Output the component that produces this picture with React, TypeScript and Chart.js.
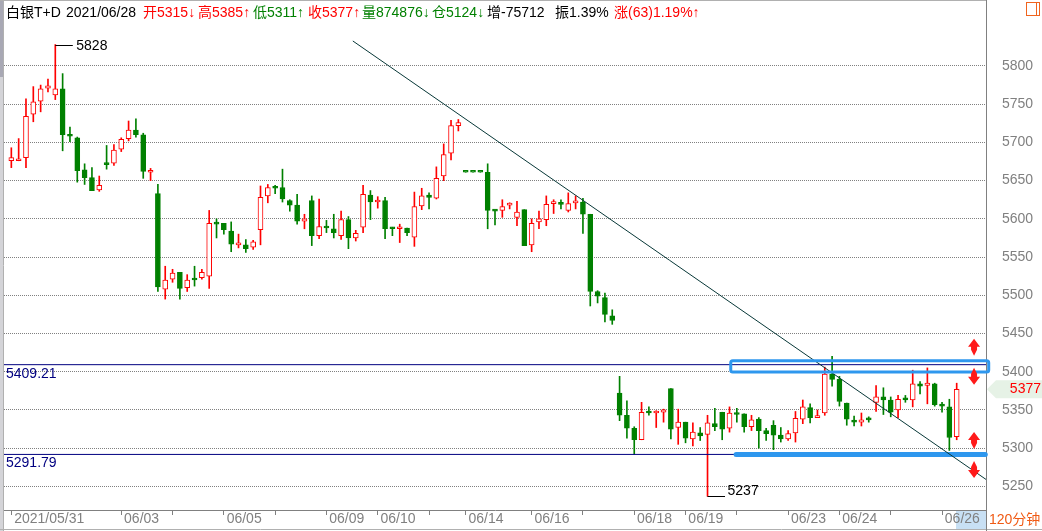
import React, { useEffect, useRef } from 'react';
import { Chart, registerables } from 'chart.js';

Chart.register(...registerables);

// ---- data (120-minute candles, 白银T+D) ----
const opens = [
  5676, 5676, 5680, 5737, 5754, 5771, 5762, 5770, 5709, 5706,
  5664, 5654, 5638, 5672, 5673, 5691, 5705, 5716, 5710, 5661,
  5633, 5508, 5521, 5530, 5510, 5521, 5523, 5525, 5594, 5594,
  5584, 5566, 5566, 5563, 5586, 5630, 5641, 5641, 5624, 5618,
  5597, 5624, 5578, 5590, 5587, 5578, 5599, 5575, 5589, 5631,
  5622, 5624, 5588, 5587, 5588, 5576, 5617, 5631, 5627, 5656,
  5686, 5722, 5661, 5661, 5661, 5661, 5611, 5611, 5618, 5602,
  5612, 5566, 5596, 5599, 5620, 5620, 5611, 5621, 5622, 5606,
  5505, 5497, 5473, 5372, 5343, 5326, 5311, 5347, 5346, 5347,
  5378, 5327, 5334, 5312, 5320, 5318, 5332, 5347, 5326, 5346,
  5345, 5328, 5338, 5323, 5330, 5317, 5312, 5320, 5338, 5353,
  5340, 5346, 5397, 5390, 5359, 5335, 5334, 5338, 5360, 5367,
  5363, 5350, 5366, 5363, 5384, 5382, 5384, 5357, 5354, 5315,
];
const highs = [
  5693, 5705, 5757, 5773, 5775, 5783, 5828, 5790, 5720, 5707,
  5672, 5667, 5656, 5696, 5697, 5706, 5728, 5731, 5712, 5666,
  5645, 5538, 5534, 5530, 5527, 5538, 5534, 5611, 5600, 5594,
  5596, 5580, 5573, 5572, 5643, 5645, 5644, 5665, 5625, 5632,
  5606, 5630, 5626, 5598, 5606, 5610, 5603, 5585, 5644, 5637,
  5629, 5628, 5589, 5593, 5588, 5635, 5640, 5634, 5668, 5698,
  5729, 5730, 5661, 5661, 5661, 5672, 5612, 5625, 5621, 5623,
  5612, 5600, 5610, 5630, 5625, 5625, 5634, 5630, 5627, 5606,
  5506, 5503, 5481, 5394, 5362, 5328, 5360, 5354, 5349, 5351,
  5378, 5351, 5334, 5333, 5327, 5343, 5352, 5347, 5354, 5352,
  5345, 5343, 5340, 5326, 5336, 5327, 5323, 5348, 5363, 5358,
  5350, 5406, 5420, 5394, 5359, 5342, 5346, 5341, 5382, 5379,
  5367, 5369, 5369, 5402, 5387, 5405, 5385, 5360, 5364, 5385,
];
const lows = [
  5667, 5676, 5667, 5727, 5740, 5766, 5756, 5689, 5701, 5648,
  5645, 5637, 5636, 5665, 5670, 5688, 5702, 5707, 5653, 5650,
  5505, 5495, 5517, 5495, 5505, 5512, 5521, 5509, 5575, 5580,
  5557, 5562, 5556, 5560, 5566, 5621, 5633, 5622, 5610, 5593,
  5587, 5565, 5574, 5582, 5575, 5573, 5561, 5571, 5582, 5599,
  5614, 5574, 5578, 5569, 5578, 5564, 5612, 5613, 5626, 5650,
  5677, 5715, 5661, 5661, 5661, 5587, 5592, 5602, 5613, 5591,
  5565, 5557, 5587, 5591, 5607, 5613, 5609, 5613, 5581, 5486,
  5490, 5465, 5462, 5336, 5313, 5292, 5311, 5343, 5327, 5334,
  5312, 5305, 5307, 5303, 5310, 5237, 5323, 5311, 5321, 5334,
  5321, 5323, 5300, 5310, 5298, 5308, 5310, 5308, 5332, 5333,
  5340, 5343, 5381, 5355, 5330, 5329, 5329, 5334, 5348, 5344,
  5341, 5340, 5360, 5354, 5371, 5358, 5355, 5347, 5297, 5311,
];
const closes = [
  5680, 5677, 5734, 5753, 5770, 5774, 5770, 5710, 5708, 5663,
  5654, 5637, 5644, 5671, 5690, 5704, 5716, 5710, 5662, 5662,
  5511, 5520, 5529, 5509, 5520, 5520, 5530, 5594, 5593, 5586,
  5567, 5567, 5561, 5570, 5628, 5641, 5640, 5626, 5618, 5597,
  5600, 5578, 5590, 5588, 5582, 5599, 5575, 5581, 5632, 5622,
  5623, 5587, 5587, 5588, 5582, 5616, 5630, 5628, 5653, 5684,
  5722, 5726, 5661, 5661, 5661, 5611, 5610, 5616, 5620, 5609,
  5565, 5594, 5600, 5619, 5621, 5619, 5620, 5622, 5606, 5505,
  5499, 5475, 5467, 5343, 5326, 5311, 5347, 5346, 5347, 5350,
  5325, 5334, 5313, 5321, 5316, 5333, 5328, 5325, 5346, 5344,
  5328, 5337, 5323, 5319, 5317, 5312, 5319, 5339, 5354, 5340,
  5341, 5397, 5390, 5361, 5338, 5334, 5337, 5337, 5367, 5363,
  5347, 5364, 5363, 5384, 5381, 5385, 5357, 5355, 5314, 5377,
];

const yTickValues = [5250, 5300, 5350, 5400, 5450, 5500, 5550, 5600, 5650, 5700, 5750, 5800];
const xTickIndex = [0, 15, 22, 29, 36, 43, 50, 57, 62, 71, 78, 85, 92, 99, 106, 113, 120, 127];
const xTickLabels = ['2021/05/31', '06/03', '', '06/05', '', '06/09', '06/10', '', '06/14', '06/16', '', '06/18', '06/19', '', '06/23', '06/24', '', '06/26'];

const levelValues = [5409.21, 5291.79];
const levelLabels = ['5409.21', '5291.79'];
const trendPoints = [{ x: 46.6, y: 5832.7 }, { x: 133, y: 5259.1 }];
const supportBar = [{ x: 98.9, y: 5291.79 }, { x: 132.9, y: 5291.79 }];
const resistZone = { from: 98.17, to: 133.37, lo: 5399.6, hi: 5414.4 };
const arrowMarks = [
  { x: 131.37, y: 5432.8, dir: 1 },
  { x: 131.37, y: 5393.5, dir: -1 },
  { x: 131.37, y: 5310.7, dir: 1 },
  { x: 131.37, y: 5271.4, dir: -1 },
];
const headerTexts = ['白银T+D', '2021/06/28', '开5315↓', '高5385↑', '低5311↑', '收5377↑', '量874876↓', '仓5124↓', '增-75712', '振1.39%', '涨(63)1.19%↑'];
const headerColors = ['k', 'k', 'r', 'r', 'g', 'r', 'g', 'g', 'k', 'k', 'r'];
const periodLabel = '120分钟';

const FONT = '"Liberation Sans", "Noto Sans CJK SC", sans-serif';
const RED = '#ff0000';
const GREEN = '#008000';
const GRAY = '#808080';

const headerX = [6, 66, 143, 198, 253, 308, 362, 432, 487, 555, 614];

function drawArrow(ctx: any, x: number, y: number, dir: number) {
  ctx.beginPath();
  ctx.moveTo(x, y - 8 * dir);
  ctx.lineTo(x + 6, y);
  ctx.lineTo(x + 3, y);
  ctx.lineTo(x + 3, y + 3 * dir);
  ctx.lineTo(x, y + 9 * dir);
  ctx.lineTo(x - 3, y + 3 * dir);
  ctx.lineTo(x - 3, y);
  ctx.lineTo(x - 6, y);
  ctx.closePath();
  ctx.fill();
}

const decorPlugin = {
  id: 'decor',
  beforeDraw(chart: any) {
    const { ctx, width, height, chartArea } = chart;
    ctx.save();
    ctx.fillStyle = '#ffffff';
    ctx.fillRect(0, 0, width, height);
    ctx.fillStyle = '#c8e0f4';
    ctx.fillRect(chartArea.right - 30, chartArea.bottom + 1, 31, height - chartArea.bottom - 3);
    ctx.restore();
  },
  afterDatasetsDraw(chart: any) {
    const { ctx, chartArea } = chart;
    const xs = chart.scales.x;
    const ys = chart.scales.y;
    ctx.save();
    // resistance zone box
    const bx1 = xs.getPixelForValue(resistZone.from);
    const bx2 = xs.getPixelForValue(resistZone.to);
    const by1 = ys.getPixelForValue(resistZone.hi);
    const by2 = ys.getPixelForValue(resistZone.lo);
    ctx.strokeStyle = '#2e97ee';
    ctx.lineWidth = 3;
    ctx.beginPath();
    if (ctx.roundRect) ctx.roundRect(bx1, by1, bx2 - bx1, by2 - by1, 2);
    else ctx.rect(bx1, by1, bx2 - bx1, by2 - by1);
    ctx.stroke();

    // red alert arrows
    ctx.fillStyle = '#ff1a1a';
    arrowMarks.forEach((a) => drawArrow(ctx, xs.getPixelForValue(a.x), ys.getPixelForValue(a.y), a.dir));

    // level labels
    ctx.font = `14px ${FONT}`;
    ctx.fillStyle = '#000080';
    ctx.textBaseline = 'middle';
    ctx.textAlign = 'left';
    levelValues.forEach((v, i) => {
      ctx.fillText(levelLabels[i], chartArea.left + 2, ys.getPixelForValue(v) + 9);
    });

    // max / min markers
    let hi = 0, lo = 0;
    highs.forEach((h, i) => { if (h > highs[hi]) hi = i; });
    lows.forEach((l, i) => { if (l < lows[lo]) lo = i; });
    ctx.strokeStyle = '#000000';
    ctx.lineWidth = 1;
    ctx.fillStyle = '#000000';
    const hx = xs.getPixelForValue(hi);
    const hy = Math.round(ys.getPixelForValue(highs[hi])) + 0.5;
    ctx.beginPath(); ctx.moveTo(hx, hy); ctx.lineTo(hx + 17.5, hy); ctx.stroke();
    ctx.textBaseline = 'middle';
    ctx.fillText(String(highs[hi]), hx + 21, hy + 1);
    const lx = xs.getPixelForValue(lo);
    const ly = Math.round(ys.getPixelForValue(lows[lo])) + 0.5;
    ctx.beginPath(); ctx.moveTo(lx, ly); ctx.lineTo(lx + 17.5, ly); ctx.stroke();
    ctx.textBaseline = 'alphabetic';
    ctx.fillText(String(lows[lo]), lx + 20, ly - 2);
    ctx.restore();
  },
  afterDraw(chart: any) {
    const { ctx, width, height, chartArea, scales } = chart;
    ctx.save();
    // frame
    ctx.fillStyle = '#d4d4d8';
    ctx.fillRect(0, 0, 3, height);
    ctx.fillStyle = '#a8a8b4';
    ctx.fillRect(0, 0, 3, 77);
    ctx.strokeStyle = '#b0b0b0';
    ctx.lineWidth = 1;
    ctx.beginPath();
    ctx.moveTo(3.5, 0); ctx.lineTo(3.5, height);
    ctx.moveTo(0, 0.5); ctx.lineTo(chartArea.right, 0.5);
    ctx.moveTo(0, height - 1.5); ctx.lineTo(width, height - 1.5);
    ctx.stroke();
    ctx.strokeStyle = GRAY;
    ctx.beginPath();
    ctx.moveTo(chartArea.right + 0.5, 0); ctx.lineTo(chartArea.right + 0.5, chartArea.top);
    ctx.moveTo(chartArea.right + 0.5, chartArea.bottom); ctx.lineTo(chartArea.right + 0.5, height);
    ctx.stroke();

    // header
    ctx.font = `14px ${FONT}`;
    ctx.textBaseline = 'middle';
    ctx.textAlign = 'left';
    const cmap: any = { k: '#000000', r: RED, g: GREEN };
    headerTexts.forEach((t, i) => {
      ctx.fillStyle = cmap[headerColors[i]];
      ctx.fillText(t, headerX[i], 13);
    });

    // top-right icon
    ctx.strokeStyle = '#f0641e';
    ctx.lineWidth = 1;
    ctx.strokeRect(1026.5, 2.5, 13, 13);
    ctx.beginPath(); ctx.moveTo(1036.5, 2.5); ctx.lineTo(1036.5, 15.5); ctx.stroke();

    // last price marker
    const last = closes[closes.length - 1];
    const py = scales.y.getPixelForValue(last);
    const r0 = chartArea.right + 1;
    ctx.fillStyle = '#e6f2e6';
    ctx.beginPath();
    ctx.moveTo(r0, py);
    ctx.lineTo(r0 + 9, py - 9);
    ctx.lineTo(width, py - 9);
    ctx.lineTo(width, py + 9);
    ctx.lineTo(r0 + 9, py + 9);
    ctx.closePath();
    ctx.fill();
    ctx.fillStyle = RED;
    ctx.textAlign = 'right';
    ctx.fillText(String(last), width - 1, py);

    // period label
    ctx.fillStyle = '#f05a14';
    ctx.textAlign = 'left';
    ctx.fillText(periodLabel, chartArea.right + 3, 520);
    ctx.restore();
  },
};

export default function App() {
  const ref = useRef<HTMLCanvasElement>(null);
  useEffect(() => {
    const canvas = ref.current as HTMLCanvasElement;
    const idx = opens.map((_, i) => i);
    const up = idx.map((i) => closes[i] > opens[i]);
    const chart = new Chart(canvas, {
      type: 'bar',
      data: {
        datasets: [
          {
            type: 'line', label: 'trend', data: trendPoints as any,
            borderColor: '#083838', borderWidth: 1, pointRadius: 0, fill: false, order: 0,
          } as any,
          {
            type: 'line', label: 'support', data: supportBar as any,
            borderColor: '#2e97ee', borderWidth: 5, borderCapStyle: 'round', pointRadius: 0, fill: false, clip: false, order: 1,
          } as any,
          ...levelValues.map((v, k) => ({
            type: 'line', label: 'level' + k, data: [{ x: -1, y: v }, { x: 133, y: v }],
            borderColor: '#000080', borderWidth: 1, pointRadius: 0, fill: false, order: 2,
          } as any)),
          {
            type: 'bar', label: 'body',
            data: idx.map((i) => ({ x: i, y: [opens[i], closes[i]] })) as any,
            backgroundColor: up.map((u) => (u ? '#ffffff' : GREEN)),
            borderColor: up.map((u) => (u ? RED : GREEN)),
            borderWidth: 1, borderSkipped: false, barThickness: 5, minBarLength: 2, grouped: false, order: 5,
          } as any,
          {
            type: 'bar', label: 'wick',
            data: idx.map((i) => ({ x: i, y: [lows[i], highs[i]] })) as any,
            backgroundColor: up.map((u) => (u ? RED : GREEN)),
            borderWidth: 0, barThickness: 1, grouped: false, order: 6,
          } as any,
        ],
      },
      options: {
        responsive: false,
        animation: false,
        devicePixelRatio: 1,
        events: [],
        layout: { padding: { left: 4, top: 25, right: 0, bottom: 0 } },
        plugins: { legend: { display: false }, tooltip: { enabled: false } },
        scales: {
          x: {
            type: 'linear', min: -1, max: 133, offset: false, position: 'bottom',
            afterBuildTicks: (s: any) => { s.ticks = xTickIndex.map((v) => ({ value: v })); },
            afterFit: (s: any) => {
              s.height = 21;
              s.paddingLeft = 0; s.paddingRight = 0; s.paddingTop = 0; s.paddingBottom = 0;
            },
            ticks: {
              autoSkip: false, maxRotation: 0, minRotation: 0, align: 'start', padding: -4,
              color: GRAY, font: { family: FONT, size: 14 },
              callback: (v: any) => {
                const k = xTickIndex.indexOf(Number(v));
                return k >= 0 && xTickLabels[k] ? '\u2009' + xTickLabels[k] : '';
              },
            },
            grid: { drawOnChartArea: false, drawTicks: true, tickLength: 5, color: GRAY, offset: false },
            border: { display: true, color: GRAY },
          },
          y: {
            type: 'linear', position: 'right', min: 5219.1, max: 5853.6,
            afterBuildTicks: (s: any) => { s.ticks = yTickValues.map((v) => ({ value: v })); },
            afterFit: (s: any) => {
              s.width = 56;
              s.paddingLeft = 0; s.paddingRight = 0; s.paddingTop = 0; s.paddingBottom = 0;
            },
            ticks: { padding: 16, color: GRAY, font: { family: FONT, size: 14 }, callback: (v: any) => String(v) },
            grid: { color: GRAY, drawTicks: false },
            border: { display: true, color: GRAY, dash: [1, 1] },
          },
        },
      } as any,
      plugins: [decorPlugin],
    });
    return () => chart.destroy();
  }, []);
  return (
    <canvas
      ref={ref}
      width={1042}
      height={531}
      style={{ position: 'fixed', left: 0, top: 0, width: 1042, height: 531 }}
    />
  );
}
